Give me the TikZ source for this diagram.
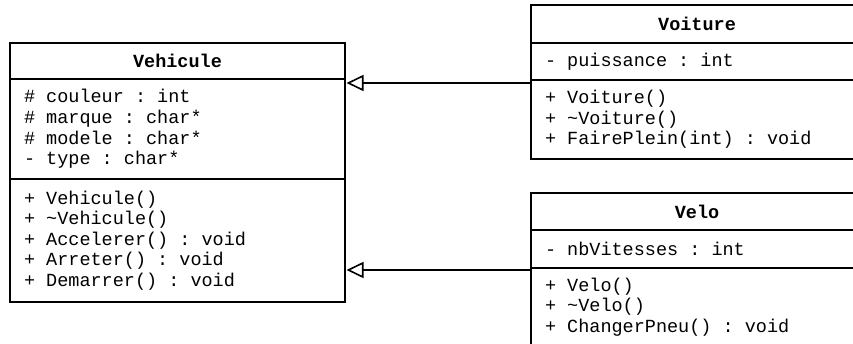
\documentclass[tikz,border=0pt]{standalone}
\usepackage{fontspec}
\setmonofont{Liberation Mono}
\usetikzlibrary{positioning,arrows.meta}

% fixed pitch spaces, as wide as one character
\newcommand{\umlsize}{\fontsize{18.5}{20.6}\selectfont
  \fontdimen2\font=0.6em \fontdimen3\font=0pt \fontdimen4\font=0pt }

\tikzset{
  classname/.style={draw, line width=2.4pt, outer sep=0pt, inner sep=0pt,
    anchor=north west, font=\ttfamily\bfseries\umlsize},
  compart/.style={draw, line width=2.4pt, outer sep=0pt, inner xsep=14pt,
    inner ysep=2pt, align=flush left, font=\ttfamily\umlsize},
  inherit/.style={line width=1.3pt, shorten >=1.5pt,
    -{Triangle[open, length=17pt, width=16pt, line width=1.6pt]}},
}

\begin{document}
\begin{tikzpicture}[x=1pt, y=-1pt]
  \useasboundingbox (0,0) rectangle (853,344);
  \clip (0,0) rectangle (853,344);

  % base class
  \node[classname, minimum width=335pt, minimum height=36pt] (vehicule) at (10,43) {Vehicule};
  \node[compart, text width=307pt, minimum height=100pt, below=0pt of vehicule] (vehicule-attr) {
    \# couleur : int\\
    \# marque : char*\\
    \# modele : char*\\
    - type : char*};
  \node[compart, text width=307pt, minimum height=123pt, below=0pt of vehicule-attr] (vehicule-ops) {
    + Vehicule()\\
    + \textasciitilde Vehicule()\\
    + Accelerer() : void\\
    + Arreter() : void\\
    + Demarrer() : void};

  % derived classes
  \node[classname, minimum width=332pt, minimum height=38pt] (voiture) at (531,5) {Voiture};
  \node[compart, text width=304pt, minimum height=37pt, below=0pt of voiture] (voiture-attr) {
    - puissance : int};
  \node[compart, text width=304pt, minimum height=79pt, below=0pt of voiture-attr] (voiture-ops) {
    + Voiture()\\
    + \textasciitilde Voiture()\\
    + FairePlein(int) : void};

  \node[classname, minimum width=332pt, minimum height=37pt] (velo) at (531,193) {Velo};
  \node[compart, text width=304pt, minimum height=38pt, below=0pt of velo] (velo-attr) {
    - nbVitesses : int};
  \node[compart, text width=304pt, minimum height=78pt, below=0pt of velo-attr] (velo-ops) {
    + Velo()\\
    + \textasciitilde Velo()\\
    + ChangerPneu() : void};

  % generalisation
  \foreach \cls/\dy in {voiture/3, velo/2}
    \draw[inherit] ([yshift=-\dy pt]\cls-ops.north west) coordinate (tail)
      -- (tail -| vehicule-attr.east);
\end{tikzpicture}
\end{document}
